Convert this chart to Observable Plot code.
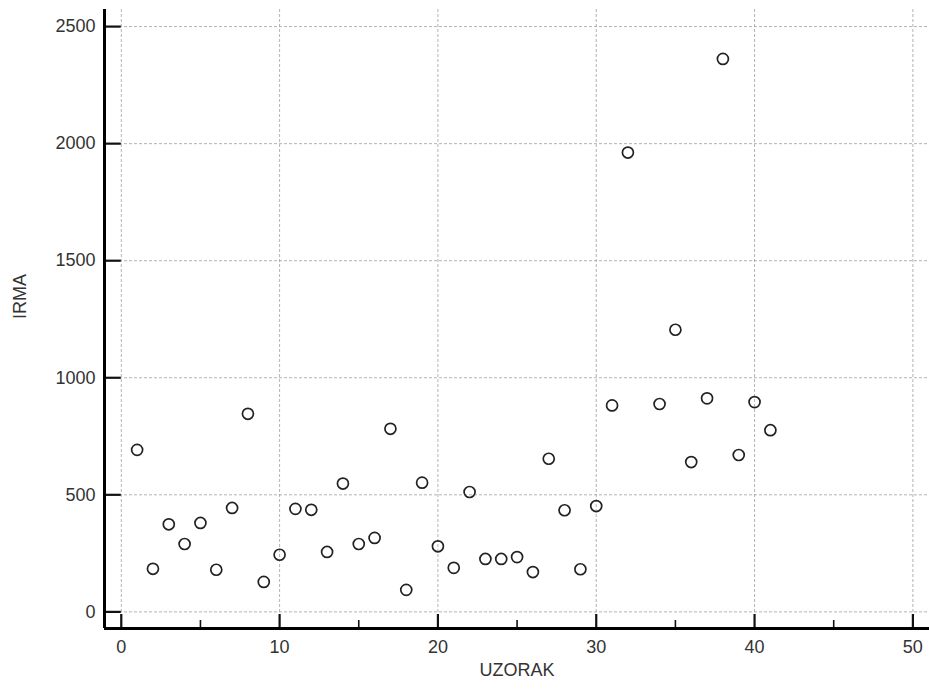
<!DOCTYPE html>
<html>
<head>
<meta charset="utf-8">
<script src="https://cdn.jsdelivr.net/npm/d3@7"></script>
<script src="https://cdn.jsdelivr.net/npm/@observablehq/plot@0.6"></script>
<style>
  html, body { margin: 0; padding: 0; background: #fff; }
  #chart svg { display: block; }
</style>
</head>
<body>
<div id="chart"></div>
<script>
// Data
const uzorak = [1,2,3,4,5,6,7,8,9,10,11,12,13,14,15,16,17,18,19,20,21,22,23,24,25,26,27,28,29,30,31,32,34,35,36,37,38,39,40,41];
const irma   = [692,184,374,290,380,180,444,846,128,244,440,436,256,548,290,316,782,94,552,280,188,512,226,226,234,170,654,434,182,452,882,1962,888,1205,640,912,2362,670,896,776];
const xTicks = [0,10,20,30,40,50];
const xMinorTicks = [5,15,25,35,45];
const yTicks = [0,500,1000,1500,2000,2500];
const xLabel = "UZORAK";
const yLabel = "IRMA";

const data = uzorak.map((u, i) => ({uzorak: u, irma: irma[i]}));

const W = 929, H = 691;
const mL = 104, mR = 0, mT = 9, mB = 63;
const xDom = [-1.06, 51.05];
const yDom = [-71, 2573];
const pxPerY = (H - mT - mB) / (yDom[1] - yDom[0]);
const yPx = px => yDom[0] + px / pxPerY;
const fmt = d => String(d);

const plot = Plot.plot({
  width: W,
  height: H,
  marginLeft: mL,
  marginRight: mR,
  marginTop: mT,
  marginBottom: mB,
  style: {fontFamily: "'Liberation Sans', Arial, sans-serif", background: "#fff"},
  x: {domain: xDom},
  y: {domain: yDom},
  marks: [
    Plot.gridX(xTicks, {stroke: "#9a9a9a", strokeOpacity: 0.75, strokeWidth: 1, strokeDasharray: "3,2"}),
    Plot.gridY(yTicks, {stroke: "#9a9a9a", strokeOpacity: 0.75, strokeWidth: 1, strokeDasharray: "3,2"}),
    // inward ticks
    Plot.ruleY(yTicks, {x1: xDom[0], x2: 0, stroke: "#111", strokeWidth: 2.2}),
    Plot.ruleX(xTicks, {y1: yDom[0], y2: yPx(14), stroke: "#111", strokeWidth: 2.2}),
    Plot.ruleX(xMinorTicks, {y1: yDom[0], y2: yPx(8), stroke: "#111", strokeWidth: 1.6}),
    // axis lines
    Plot.ruleX([xDom[0]], {stroke: "#000", strokeWidth: 3}),
    Plot.ruleY([yDom[0]], {stroke: "#000", strokeWidth: 3}),
    Plot.axisY(yTicks, {tickSize: 0, tickPadding: 9, fontSize: 18, color: "#333", label: null, tickFormat: fmt}),
    Plot.axisX(xTicks, {tickSize: 0, tickPadding: 12, fontSize: 18, color: "#333", label: null, tickFormat: fmt}),
    Plot.text([yLabel], {frameAnchor: "left", dx: -84, rotate: -90, fontSize: 18, fill: "#333"}),
    Plot.text([xLabel], {frameAnchor: "bottom", dy: 47, fontSize: 18, fill: "#333"}),
    Plot.dot(data, {x: "uzorak", y: "irma", r: 5.5, stroke: "#222", strokeWidth: 1.7, fill: "none"})
  ]
});
document.getElementById("chart").appendChild(plot);
</script>
</body>
</html>
